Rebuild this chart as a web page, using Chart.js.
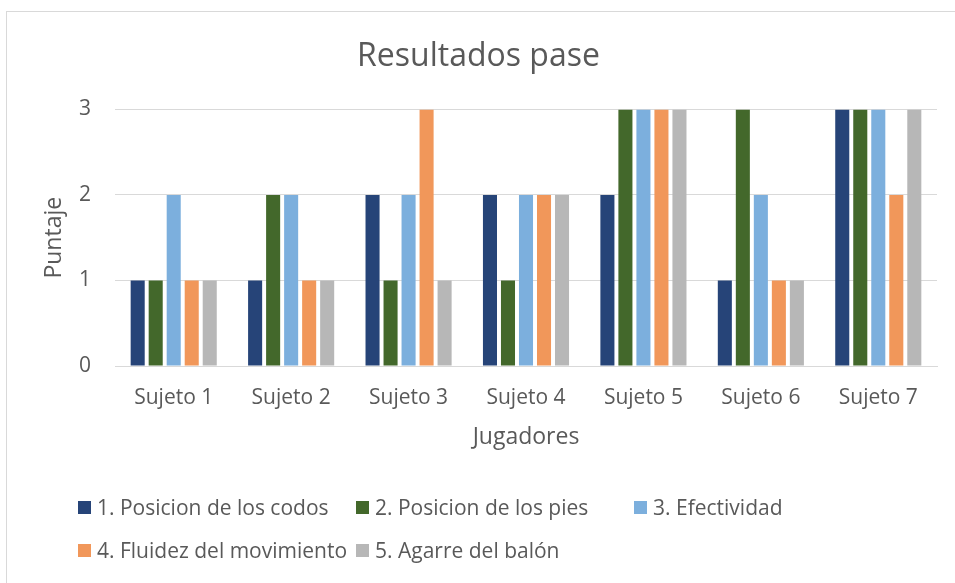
<!DOCTYPE html>
<html>
<head>
<meta charset="utf-8">
<script src="https://cdn.jsdelivr.net/npm/chart.js@4"></script>
<style>
  html, body { margin: 0; padding: 0; background: #ffffff; }
  #frame { position: absolute; left: 6px; top: 11px; width: 960px; height: 600px; border: 1px solid #d9d9d9; box-sizing: border-box; }
  #wrap { position: absolute; left: 0; top: 0; width: 955px; height: 583px; }
  #legend { position: absolute; left: 78px; top: 0; width: 860px; font-family: "Open Sans", sans-serif; font-size: 21px; color: #595959; }
  .item { position: absolute; white-space: nowrap; display: flex; align-items: center; }
  .box { width: 13px; height: 13px; margin-right: 6px; display: inline-block; }
</style>
</head>
<body>
<div id="frame"></div>
<div id="wrap"><canvas id="barChart"></canvas></div>
<div id="legend"></div>
<script>
// categories and series values
const sujetos = ['Sujeto 1', 'Sujeto 2', 'Sujeto 3', 'Sujeto 4', 'Sujeto 5', 'Sujeto 6', 'Sujeto 7'];
const posicionCodos = [1, 1, 2, 2, 2, 1, 3];
const posicionPies = [1, 2, 1, 1, 3, 3, 3];
const efectividad = [2, 2, 2, 2, 3, 2, 3];
const fluidez = [1, 1, 3, 2, 3, 1, 2];
const agarre = [1, 1, 1, 2, 3, 1, 3];
const yTicks = [0, 1, 2, 3];

const serieNames = ['1. Posicion de los codos', '2. Posicion de los pies', '3. Efectividad', '4. Fluidez del movimiento', '5. Agarre del balón'];
const serieColors = ['#264478', '#43682B', '#7CAFDD', '#F1975A', '#B7B7B7'];
const serieData = [posicionCodos, posicionPies, efectividad, fluidez, agarre];

const txtColor = '#595959';
const fontFam = '"Open Sans", sans-serif';

const ctx = document.getElementById('barChart').getContext('2d');
window.myBarChart = new Chart(ctx, {
  type: 'bar',
  data: {
    labels: sujetos,
    datasets: serieData.map((d, i) => ({
      label: serieNames[i],
      data: d,
      backgroundColor: serieColors[i],
      borderWidth: 0,
      categoryPercentage: 0.767,
      barPercentage: 0.78,
    })),
  },
  options: {
    responsive: true,
    maintainAspectRatio: false,
    animation: false,
    layout: { padding: { top: 0, left: 20, right: 18, bottom: 123 } },
    plugins: {
      legend: { display: false },
      tooltip: { enabled: false },
      title: {
        display: true,
        text: 'Resultados pase',
        color: txtColor,
        font: { family: fontFam, size: 32, weight: 'normal' },
        padding: { top: 38, bottom: 33 },
      },
    },
    scales: {
      x: {
        grid: { display: false, drawTicks: false },
        border: { display: true, color: '#d9d9d9' },
        ticks: { color: txtColor, font: { family: fontFam, size: 21 }, padding: 19, maxRotation: 0 },
        title: { display: true, text: 'Jugadores', color: txtColor, font: { family: fontFam, size: 23 }, padding: { top: 0, bottom: 9 } },
        afterFit: (scale) => { scale.height = 94; },
      },
      y: {
        min: 0,
        max: 3,
        afterBuildTicks: (scale) => { scale.ticks = yTicks.map((v) => ({ value: v })); },
        grid: { color: '#d9d9d9', lineWidth: 1, drawTicks: false },
        border: { display: false },
        ticks: { color: txtColor, font: { family: fontFam, size: 21 }, padding: 24 },
        title: { display: true, text: 'Puntaje', color: txtColor, font: { family: fontFam, size: 23 }, padding: { top: 21, bottom: 0 } },
        afterFit: (scale) => { scale.width = 95; },
      },
    },
  },
});

// legend laid out in fixed columns like the original
const legendEl = document.getElementById('legend');
const colX = [0, 278, 556];
const rowY = [495, 538];
serieNames.forEach((name, i) => {
  const it = document.createElement('div');
  it.className = 'item';
  it.style.left = colX[i % 3] + 'px';
  it.style.top = rowY[Math.floor(i / 3)] + 'px';
  it.style.height = '24px';
  const b = document.createElement('span');
  b.className = 'box';
  b.style.background = serieColors[i];
  const t = document.createElement('span');
  t.textContent = name;
  it.appendChild(b);
  it.appendChild(t);
  legendEl.appendChild(it);
});
</script>
</body>
</html>
